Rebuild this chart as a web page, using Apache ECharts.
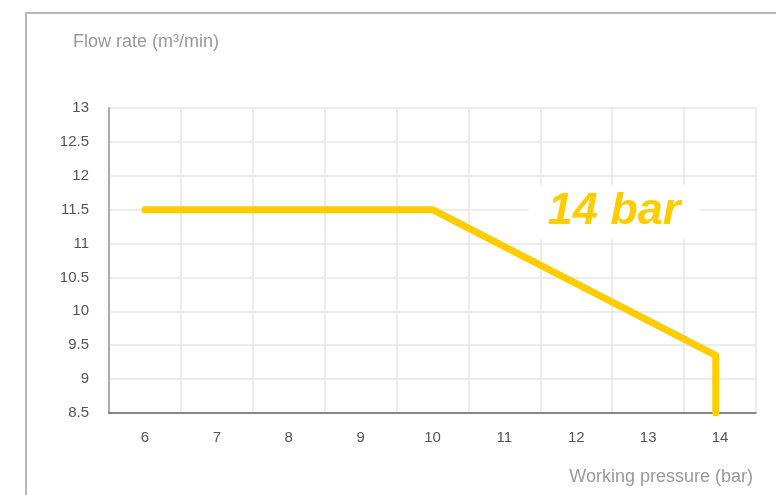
<!DOCTYPE html>
<html>
<head>
    <meta charset="utf-8">
    <title>Flow rate vs working pressure</title>
    <script src="https://cdn.jsdelivr.net/npm/echarts@6/dist/echarts.min.js"></script>
    <style>
        html, body { margin: 0; padding: 0; background: #fff; }
    </style>
</head>
<body>
<div id="main" style="width: 776px;height:495px;"></div>
<script type="text/javascript">
    // data
    var pressureCats = ['6', '7', '8', '9', '10', '11', '12', '13', '14'];
    var curvePressure = [6, 10, 13.94, 13.94];
    var curveFlow = [11.5, 11.5, 9.35, 8.5];
    var curveName = '14 bar';

    var curveData = curvePressure.map(function (p, i) {
        return [p, curveFlow[i]];
    });

    var myChart = echarts.init(document.getElementById('main'));

    var option = {
        animation: false,
        textStyle: {
            fontFamily: 'Liberation Sans, Arial, sans-serif'
        },
        grid: {
            left: 109,
            right: 20,
            top: 108,
            bottom: 82
        },
        xAxis: [
            {
                type: 'category',
                data: pressureCats,
                boundaryGap: true,
                name: 'Working pressure (bar)',
                nameLocation: 'end',
                nameGap: -3,
                nameTextStyle: {
                    color: '#999',
                    fontSize: 18,
                    align: 'right',
                    verticalAlign: 'top',
                    padding: [55, 0, 0, 0]
                },
                axisLine: {lineStyle: {color: '#666', width: 1.5}},
                axisTick: {show: false},
                axisLabel: {color: '#555', fontSize: 15, margin: 17},
                splitLine: {show: true, lineStyle: {color: '#e6e6e6', width: 1.5}}
            },
            {
                // hidden value scale matching the category bands, used for the curve
                type: 'value',
                min: 5.5,
                max: 14.5,
                show: false,
                splitLine: {show: false}
            }
        ],
        yAxis: {
            type: 'value',
            min: 8.5,
            max: 13,
            interval: 0.5,
            name: 'Flow rate (m³/min)',
            nameLocation: 'end',
            nameGap: 66,
            nameTextStyle: {
                color: '#999',
                fontSize: 18,
                align: 'left',
                verticalAlign: 'middle',
                padding: [0, 0, 0, -36]
            },
            axisLine: {show: true, lineStyle: {color: '#aaa', width: 2}},
            axisTick: {show: false},
            axisLabel: {color: '#555', fontSize: 15, margin: 20},
            splitLine: {lineStyle: {color: '#e6e6e6', width: 1.5}}
        },
        graphic: [
            {
                type: 'rect',
                z: -10,
                shape: {x: 26, y: 13, width: 900, height: 600},
                style: {fill: 'none', stroke: '#b8b8b8', lineWidth: 2}
            },
            {
                type: 'text',
                z: 10,
                x: 614,
                y: 212,
                style: {
                    text: curveName,
                    fill: '#FFCC00',
                    font: 'italic bold 45px Liberation Sans, Arial, sans-serif',
                    align: 'center',
                    verticalAlign: 'middle',
                    backgroundColor: '#fff',
                    padding: [4, 19]
                }
            }
        ],
        series: [
            {
                name: curveName,
                type: 'line',
                xAxisIndex: 1,
                data: curveData,
                showSymbol: false,
                symbol: 'none',
                lineStyle: {
                    color: '#FFCC00',
                    width: 7,
                    cap: 'round',
                    join: 'round'
                }
            }
        ]
    };

    myChart.setOption(option);
</script>
</body>
</html>
